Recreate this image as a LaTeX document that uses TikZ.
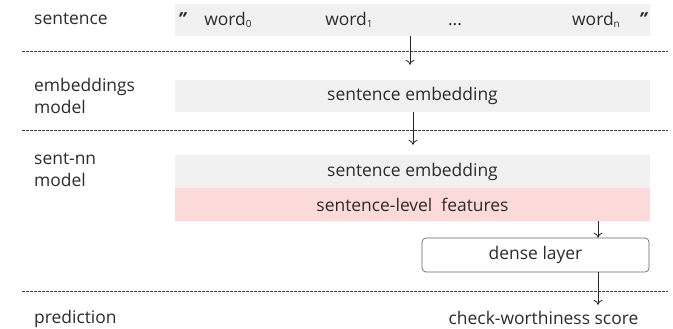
\documentclass[tikz,border=0pt]{standalone}
\usepackage{fontspec}
\setmainfont{Open Sans}
\usetikzlibrary{arrows.meta,calc}
\definecolor{boxgrey}{HTML}{F1F1F1}
\definecolor{boxpink}{HTML}{FCDADA}
\definecolor{txt}{HTML}{2B2B2B}
\newcommand{\wsub}[1]{\raisebox{-2bp}{\fontsize{10}{10}\selectfont #1}}
\begin{document}
\begin{tikzpicture}[x=1bp,y=-1bp,
  every node/.style={text=txt,font=\fontsize{17.5}{21.5}\selectfont},
  lab/.style={anchor=west,align=left,inner sep=0pt},
  wordnode/.style={anchor=base,inner sep=0pt},
  quotenode/.style={anchor=base,inner sep=0pt,font=\fontsize{18}{18}\selectfont\bfseries\itshape},
  greybox/.style={fill=boxgrey,draw=none,minimum width=475bp,minimum height=32bp,inner sep=0pt},
  pinkbox/.style={fill=boxpink,draw=none,minimum width=475bp,minimum height=33bp,inner sep=0pt},
  densebox/.style={draw=black!60,line width=0.7bp,rounded corners=4bp,minimum width=227bp,minimum height=34bp,inner sep=0pt},
  sep/.style={draw=black!75,line width=0.7bp,dash pattern=on 2.5bp off 1.5bp},
  arr/.style={draw=black!85,line width=0.8bp,-{To[length=5bp,width=9bp]}}]
\useasboundingbox (0,0) rectangle (673,328);
% separators
\coordinate (l1a) at (22,51); \coordinate (l1b) at (668,51);
\coordinate (l2a) at (22,130); \coordinate (l2b) at (668,130);
\coordinate (l3a) at (22,291); \coordinate (l3b) at (668,291);
\draw[sep] (l1a) -- (l1b);
\draw[sep] (l2a) -- (l2b);
\draw[sep] (l3a) -- (l3b);
% labels
\node[lab] (lsent) at (34,19) {sentence};
\node[lab] (lemb) at (34,96) {embeddings\\model};
\node[lab] (lnn) at (34,170) {sent-nn\\model};
\node[lab] (lpred) at (34,319) {prediction};
% sentence row
\node[greybox] (sent) at (412.5,19.5) {};
\node[quotenode] (q1) at (182,25) {"};
\node[wordnode] (w0) at (228,25) {word\wsub{0}};
\node[wordnode] (w1) at (349,25) {word\wsub{1}};
\node[wordnode] (dots) at (455,25) {...};
\node[wordnode] (wn) at (596,25) {word\wsub{n}};
\node[quotenode] (q2) at (643,25) {"};
% embeddings
\node[greybox] (emb) at (412.5,96) {sentence embedding};
% sent-nn
\node[greybox,minimum height=33bp] (emb2) at (412.5,171.5) {sentence embedding};
\node[pinkbox] (feat) at (412.5,204.5) {sentence-level\ \ features};
\node[densebox] (dense) at (535.5,255) {dense layer};
\node (score) at (543.5,318) {check-worthiness score};
% arrows
\coordinate (a1) at (410,0);
\coordinate (a2) at (413,0);
\draw[arr,shorten >=15bp] (sent.south -| a1) -- (emb.north -| a1);
\draw[arr,shorten >=10bp] (emb.south -| a2) -- (emb2.north -| a2);
\coordinate (ax) at (598,0);
\draw[arr] (feat.south -| ax) -- (dense.north -| ax);
\draw[arr,shorten >=3bp] (dense.south -| ax) -- (score.north -| ax);
\end{tikzpicture}
\end{document}
